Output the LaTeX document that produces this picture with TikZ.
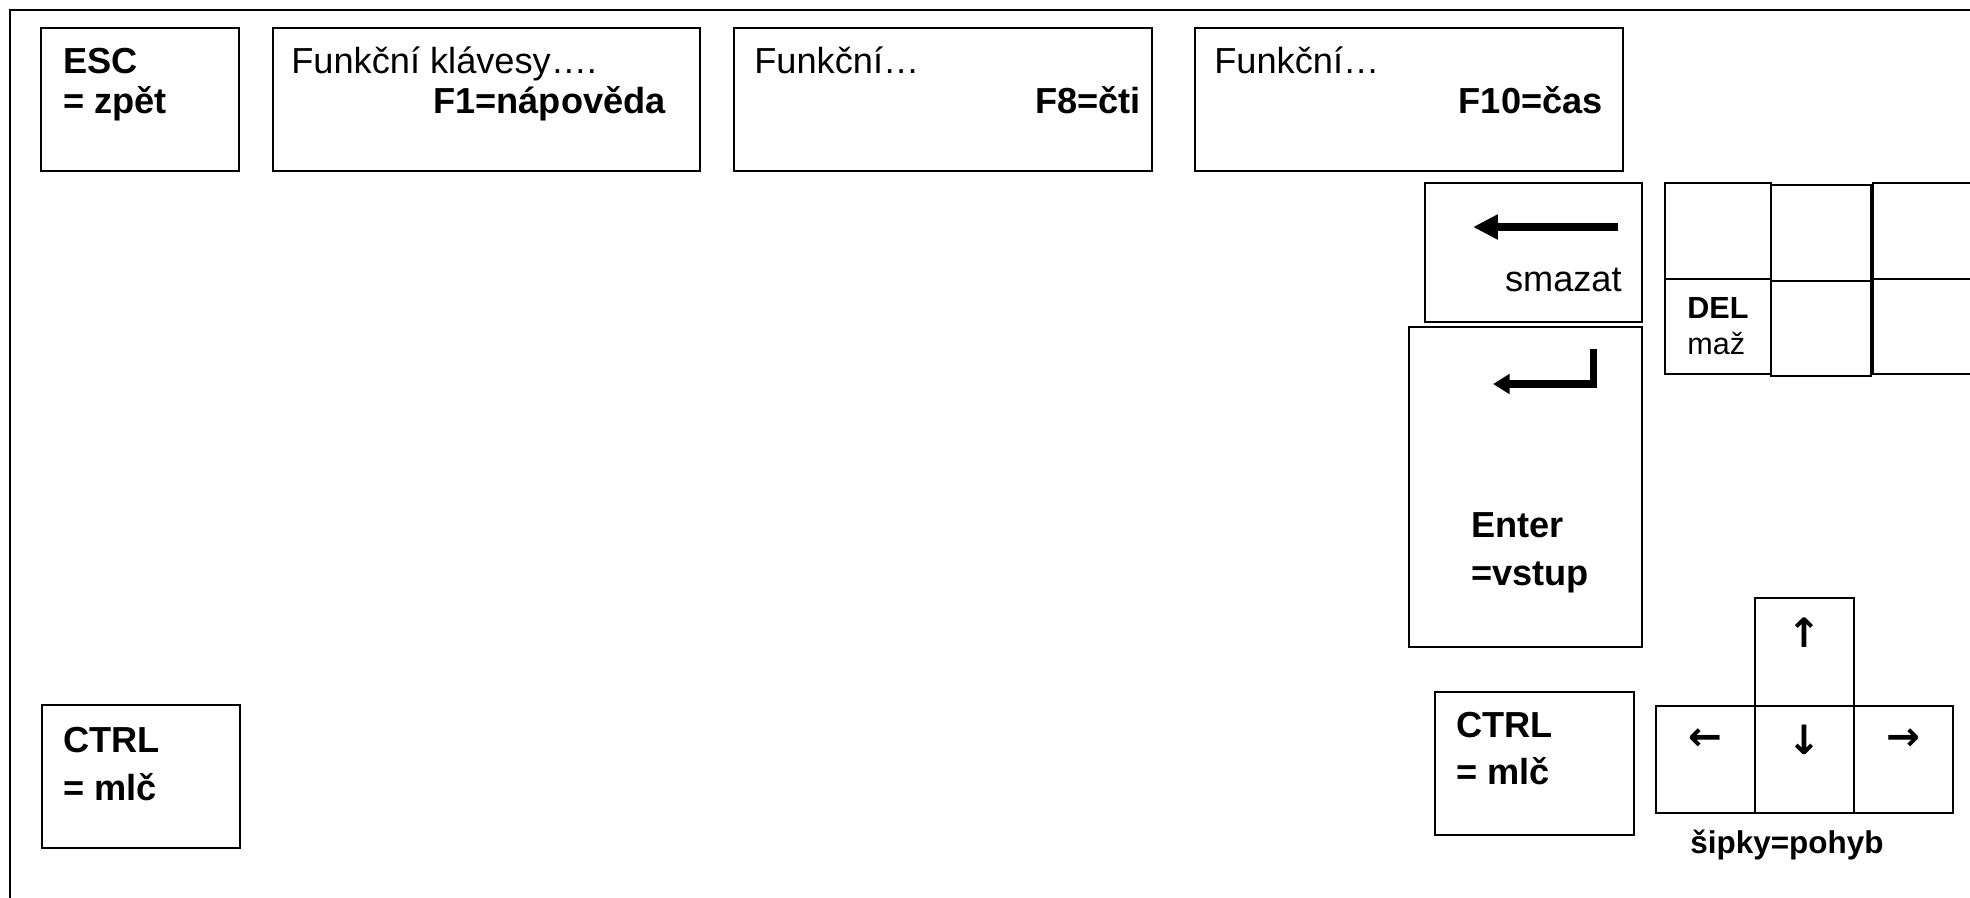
\documentclass[tikz,border=0pt]{standalone}
\usepackage{fontspec}
\setmainfont{Liberation Sans}
\newfontfamily\arrowfont{DejaVu Sans}
\usetikzlibrary{arrows.meta,fit}
\begin{document}
\begin{tikzpicture}[x=0.02cm,y=-0.02cm,
  keybox/.style={draw=black,line width=1.1pt,inner sep=0pt,rectangle},
  lbl/.style={inner sep=0pt,font=\fontsize{20.6}{24}\selectfont},
  lblb/.style={inner sep=0pt,font=\fontsize{20.6}{24}\selectfont\bfseries},
  smalllbl/.style={inner sep=0pt,font=\fontsize{17.4}{20}\selectfont},
  smalllblb/.style={inner sep=0pt,font=\fontsize{17.4}{20}\selectfont\bfseries},
  hintlbl/.style={inner sep=0pt,font=\fontsize{17.9}{21}\selectfont\bfseries},
  glyph/.style={inner sep=0pt,font=\arrowfont\fontsize{23}{26}\selectfont\bfseries},
  bigarrow/.style={line width=4.5pt,line join=miter,-{Triangle[length=14.2pt,width=13.5pt]}},
  retarrow/.style={line width=4pt,line join=miter,-{Triangle[length=9.5pt,width=11pt]}},
]
\useasboundingbox (0,0) rectangle (1970,897);

% outer frame (continues past the right and bottom edges)
\node[keybox, fit={(10,10) (2000,930)}] (frame) {};

% top row: Esc and function keys
\node[keybox, fit={(41,28) (239,171)}] (esc) {};
\node[keybox, fit={(273,28) (700,171)}] (f1) {};
\node[keybox, fit={(734,28) (1152,171)}] (f8) {};
\node[keybox, fit={(1195,28) (1623,171)}] (f10) {};

\node[lblb, anchor=base west] (esc-a) at (63,73) {ESC};
\node[lblb, anchor=base west] (esc-b) at (63,113) {= zpět};

\node[lbl, anchor=base west] (f1-a) at (291,73) {Funkční klávesy….};
\node[lblb, anchor=base east] (f1-b) at (666,113) {F1=nápověda};

\node[lbl, anchor=base west] (f8-a) at (754,73) {Funkční…};
\node[lblb, anchor=base east] (f8-b) at (1141,113) {F8=čti};

\node[lbl, anchor=base west] (f10-a) at (1214,73) {Funkční…};
\node[lblb, anchor=base east] (f10-b) at (1603,113) {F10=čas};

% backspace
\node[keybox, fit={(1425,183) (1642,322)}] (bs) {};
\coordinate (bs-tail) at (1618,227);
\coordinate (bs-tip) at (1473,227);
\draw[bigarrow] (bs-tail) -- (bs-tip);
\node[lbl, anchor=base east] (bs-a) at (1622,291) {smazat};

% enter
\node[keybox, fit={(1409,327) (1642,647)}] (enter) {};
\coordinate (ent-top) at (1593,349);
\coordinate (ent-corner) at (1593,384);
\coordinate (ent-tip) at (1493,384);
\draw[retarrow] (ent-top) -- (ent-corner) -- (ent-tip);
\node[lblb, anchor=base west] (enter-a) at (1471,537) {Enter};
\node[lblb, anchor=base west] (enter-b) at (1471,585) {=vstup};

% delete block
\node[keybox, fit={(1665,183) (1771,279)}] (del-1) {};
\node[keybox, fit={(1665,279) (1771,374)}] (del) {};
\node[keybox, fit={(1771,185) (1871,281)}] (del-2) {};
\node[keybox, fit={(1771,281) (1871,376)}] (del-3) {};
\node[keybox, fit={(1873,183) (2000,279)}] (del-4) {};
\node[keybox, fit={(1873,279) (2000,374)}] (del-5) {};
\node[smalllblb, anchor=base west] (del-a) at (1687,318) {DEL};
\node[smalllbl, anchor=base west] (del-b) at (1687,354) {maž};

% control keys
\node[keybox, fit={(42,705) (240,848)}] (ctrl-l) {};
\node[lblb, anchor=base west] (ctrl-l-a) at (63,752) {CTRL};
\node[lblb, anchor=base west] (ctrl-l-b) at (63,800) {= mlč};

\node[keybox, fit={(1435,692) (1634,835)}] (ctrl-r) {};
\node[lblb, anchor=base west] (ctrl-r-a) at (1456,737) {CTRL};
\node[lblb, anchor=base west] (ctrl-r-b) at (1456,784) {= mlč};

% cursor keys
\node[keybox, fit={(1755,598) (1854,706)}] (up) {};
\node[keybox, fit={(1656,706) (1755,813)}] (left) {};
\node[keybox, fit={(1755,706) (1854,813)}] (down) {};
\node[keybox, fit={(1854,706) (1953,813)}] (right) {};
\node[glyph] (up-g) at (1804,633) {↑};
\node[glyph] (left-g) at (1705,740) {←};
\node[glyph] (down-g) at (1804,740) {↓};
\node[glyph] (right-g) at (1903,740) {→};
\node[hintlbl, anchor=base] (hint) at (1787,853) {šipky=pohyb};
\end{tikzpicture}
\end{document}
